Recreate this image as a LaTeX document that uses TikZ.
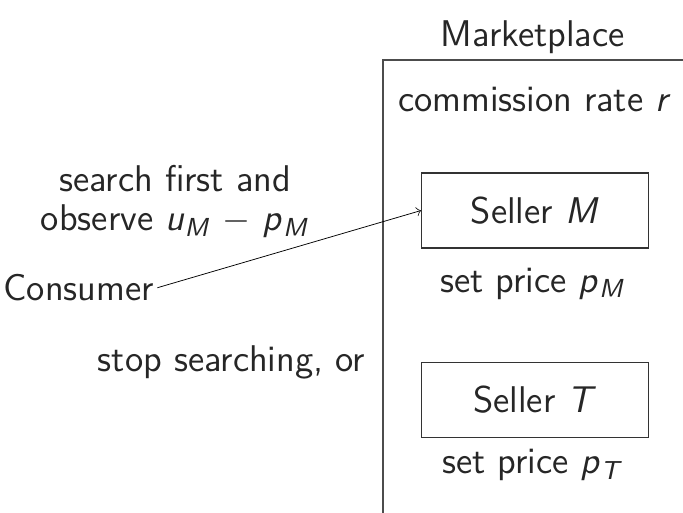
\documentclass[tikz,border=0pt]{standalone}
\usepackage{tikz}
\renewcommand{\familydefault}{\sfdefault}
% sans italic variable with sans italic index
\newcommand{\svar}[2]{\textit{#1}\textsubscript{\textit{#2}}}

\begin{document}
\begin{tikzpicture}[
    seller/.style={draw=black!80, minimum width=2.654cm, minimum height=0.878cm},
    every node/.style={inner sep=1pt, font=\fontsize{12.4}{13.2}\selectfont, text=black!85}
  ]
    % page frame
    \useasboundingbox (0,0) rectangle (8,-6);
    \clip (0,0) rectangle (8,-6);

    % marketplace block
    \node (mkt) at (6.24, -0.43) {Marketplace};
    \draw[black!70] (8.5, -0.703) -- (4.486, -0.703) -- (4.486, -6.5);
    \node (rate) at (6.26, -1.17) {commission rate \textit{r}};

    % the two sellers
    \node[seller] (sellM) at (6.265, -2.466) {Seller \textit{M}};
    \node (priceM) at (6.24, -3.32) {set price \svar{p}{M}};

    \node[seller] (sellT) at (6.265, -4.685) {Seller \textit{T}};
    \node (priceT) at (6.24, -5.45) {set price \svar{p}{T}};

    % consumer side
    \node[anchor=west] (cons) at (0.0, -3.37) {Consumer};
    \node[align=center] (search) at (2.05, -2.36) {search first and\\observe \svar{u}{M} $-$ \svar{p}{M}};
    \node[anchor=east] (stop) at (4.32, -4.24) {stop searching, or};

    \draw[->, line width=0.25pt] (cons.east) -- (sellM.west);
\end{tikzpicture}
\end{document}
